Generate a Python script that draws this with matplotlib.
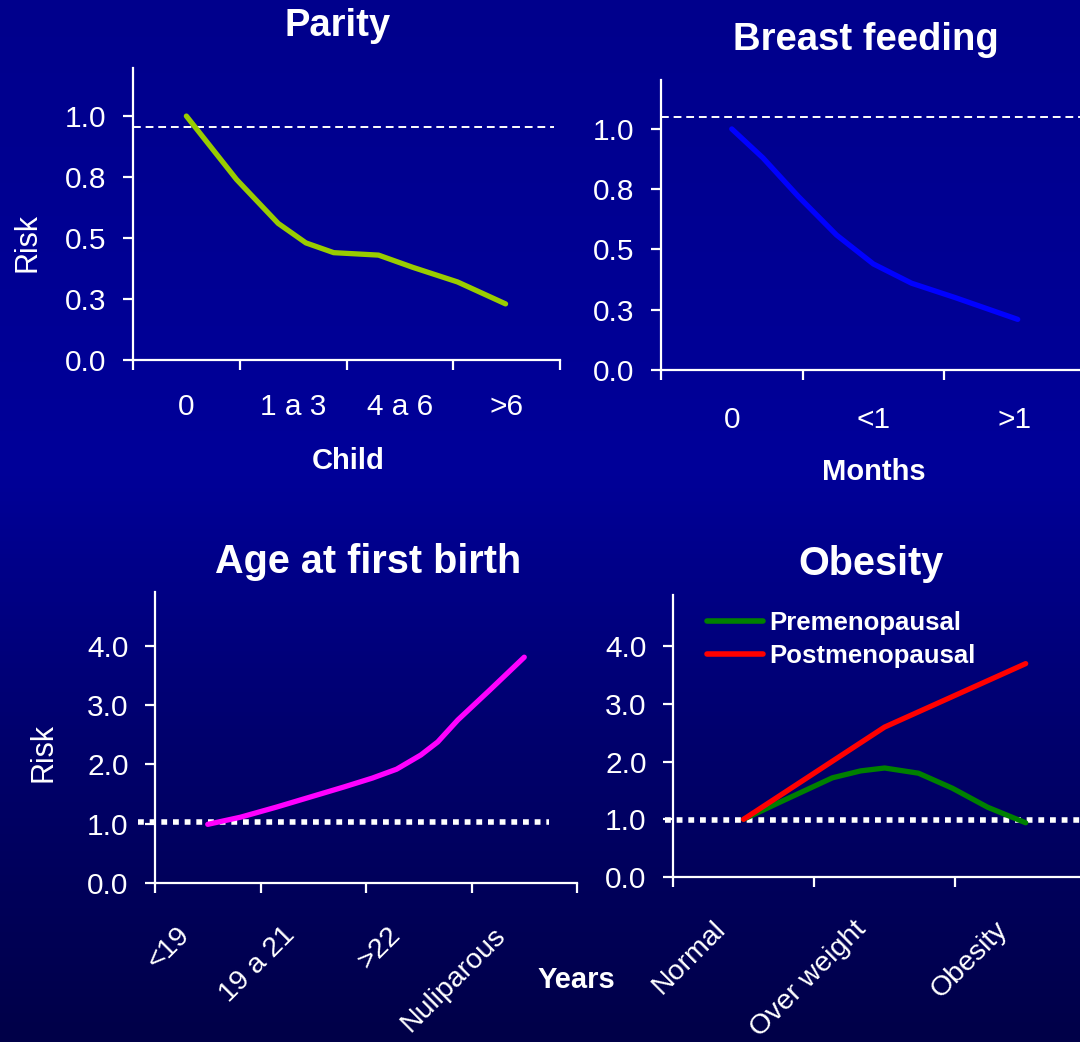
import numpy as np
import matplotlib.pyplot as plt
import matplotlib.transforms as mtransforms
from matplotlib.colors import LinearSegmentedColormap

plt.rcParams['font.family'] = ['Liberation Sans', 'DejaVu Sans']

W, H = 1080, 1042

# ── data ──
parity_cats = ['0', '1 a 3', '4 a 6', '>6']
parity_x = [0, 0.47, 0.86, 1.12, 1.38, 1.8, 2.12, 2.54, 2.99]
parity_risk = [1.0, 0.74, 0.56, 0.48, 0.44, 0.43, 0.38, 0.32, 0.23]

breast_cats = ['0', '<1', '>1']
breast_x = [0, 0.22, 0.47, 0.74, 1.0, 1.27, 1.58, 2.02]
breast_risk = [1.0, 0.88, 0.72, 0.56, 0.44, 0.36, 0.30, 0.21]

age_cats = ['<19', '19 a 21', '>22', 'Nuliparous']
age_x = [0, 0.31, 0.65, 0.97, 1.29, 1.56, 1.79, 2.02, 2.18, 2.37, 2.67, 3.0]
age_risk = [0.99, 1.11, 1.28, 1.45, 1.62, 1.77, 1.92, 2.16, 2.38, 2.75, 3.25, 3.81]

obesity_cats = ['Normal', 'Over weight', 'Obesity']
pre_x = [0, 0.26, 0.63, 0.83, 1.0, 1.24, 1.48, 1.73, 2.0]
pre_risk = [1.0, 1.3, 1.72, 1.84, 1.89, 1.8, 1.54, 1.21, 0.94]
post_x = [0, 1, 2]
post_risk = [1.0, 2.6, 3.7]

small_ticks = [0, 0.25, 0.5, 0.75, 1.0]
small_labels = ['0.0', '0.3', '0.5', '0.8', '1.0']
big_ticks = [0, 1, 2, 3, 4]
big_labels = ['0.0', '1.0', '2.0', '3.0', '4.0']

fig = plt.figure(figsize=(W / 100, H / 100), dpi=100)

# ── background gradient ──
bg = fig.add_axes([0, 0, 1, 1], zorder=-10)
cmap = LinearSegmentedColormap.from_list(
    'bg', [(0.0, '#00008c'), (0.45, '#000099'), (0.7, '#00006e'), (1.0, '#000048')])
bg.imshow(np.linspace(0, 1, 256).reshape(-1, 1), aspect='auto', cmap=cmap,
          extent=[0, 1, 0, 1], origin='upper')
bg.axis('off')


def px_axes(l, t, r, b):
    return fig.add_axes([l / W, 1 - b / H, (r - l) / W, (b - t) / H])


def style(ax, ncat, xmax, ymax, yt, ytl, fs, xfs, xpad):
    ax.set_facecolor('none')
    for s in ['top', 'right']:
        ax.spines[s].set_visible(False)
    for s in ['left', 'bottom']:
        ax.spines[s].set_color('white')
        ax.spines[s].set_linewidth(1.6)
    ax.set_xlim(-0.5, xmax)
    ax.set_ylim(0, ymax)
    ax.set_yticks(yt)
    ax.set_yticklabels(ytl)
    bounds = [i - 0.5 for i in range(ncat + 1) if i - 0.5 <= xmax + 1e-9]
    ax.set_xticks(bounds)
    ax.set_xticklabels([])
    ax.set_xticks(list(range(ncat)), minor=True)
    ax.tick_params(axis='both', which='major', colors='white', length=7,
                   width=1.6, direction='out', labelsize=fs, pad=12)
    ax.tick_params(axis='x', which='minor', length=0, labelsize=xfs,
                   colors='white', pad=xpad)


# ── Parity ──
ax1 = px_axes(133, 68, 560, 360)
style(ax1, 4, 3.5, 1.197, small_ticks, small_labels, 21.5, 21.5, 24)
ax1.set_xticklabels(parity_cats, minor=True)
ax1.plot([-0.5, 3.44], [0.955, 0.955], color='white', lw=1.4,
         dashes=(4, 2.5), zorder=1)
ax1.plot(parity_x, parity_risk, color='#99cc00', lw=3.8,
         solid_capstyle='round', solid_joinstyle='round', zorder=2)

# ── Breast feeding ──
ax2 = px_axes(661, 80, 1080, 370)
style(ax2, 3, 2.46, 1.203, small_ticks, small_labels, 21.5, 21.5, 26)
ax2.set_xticklabels(breast_cats, minor=True)
ax2.plot([-0.5, 2.46], [1.05, 1.05], color='white', lw=1.4,
         dashes=(4, 2.5), zorder=1, clip_on=False)
ax2.plot(breast_x, breast_risk, color='#0000ff', lw=3.8,
         solid_capstyle='round', solid_joinstyle='round', zorder=2)

# ── Age at first birth ──
ax3 = px_axes(155, 592, 577, 883)
style(ax3, 4, 3.5, 4.91, big_ticks, big_labels, 21.5, 20.5, 28)
ax3.set_xticklabels(age_cats, minor=True, rotation=45, ha='right')
off = mtransforms.ScaledTranslation(-13 / 100, 0, fig.dpi_scale_trans)
for lab in ax3.get_xticklabels(minor=True):
    lab.set_transform(lab.get_transform() + off)
ax3.plot([-0.66, 3.23], [1.03, 1.03], color='white', lw=4,
         dashes=(1.05, 1.05), zorder=1, clip_on=False)
ax3.plot(age_x, age_risk, color='#ff00ff', lw=3.8,
         solid_capstyle='round', solid_joinstyle='round', zorder=2)

# ── Obesity ──
ax4 = px_axes(673, 595, 1080, 877)
style(ax4, 3, 2.385, 4.89, big_ticks, big_labels, 21.5, 20.5, 28)
ax4.set_xticklabels(obesity_cats, minor=True, rotation=45, ha='right')
for lab in ax4.get_xticklabels(minor=True):
    lab.set_transform(lab.get_transform() + off)
ax4.plot([-0.56, 2.385], [0.98, 0.98], color='white', lw=4,
         dashes=(1.05, 1.05), zorder=1, clip_on=False)
ax4.plot(pre_x, pre_risk, color='#008000', lw=3.8, label='Premenopausal',
         solid_capstyle='round', solid_joinstyle='round', zorder=2)
ax4.plot(post_x, post_risk, color='#ff0000', lw=3.8, label='Postmenopausal',
         solid_capstyle='round', solid_joinstyle='round', zorder=3)
leg = ax4.legend(loc='upper left', bbox_to_anchor=(0.0835, 0.945), frameon=False,
                 handlelength=2.18, handletextpad=0.23, labelspacing=0.35,
                 borderaxespad=0, borderpad=0,
                 prop={'weight': 'bold', 'size': 18.5})
for t in leg.get_texts():
    t.set_color('white')
for h in leg.get_lines():
    h.set_linewidth(4)
    h.set_solid_capstyle('round')

# ── titles and axis labels ──
kw = dict(color='white', fontweight='bold', ha='center', va='baseline')
fig.text(338 / W, 1 - 36 / H, 'Parity', fontsize=27.5, **kw)
fig.text(866 / W, 1 - 50 / H, 'Breast feeding', fontsize=27.5, **kw)
fig.text(368.5 / W, 1 - 573 / H, 'Age at first birth', fontsize=28.5, **kw)
fig.text(870.5 / W, 1 - 575 / H, 'Obesity', fontsize=28.5, **kw)
fig.text(348 / W, 1 - 469 / H, 'Child', fontsize=21, **kw)
fig.text(874 / W, 1 - 480 / H, 'Months', fontsize=21, **kw)
fig.text(576 / W, 1 - 988 / H, 'Years', fontsize=21, **kw)
fig.text(27 / W, 1 - 243 / H, 'Risk', fontsize=22, color='white',
         rotation=90, ha='center', va='center')
fig.text(43 / W, 1 - 753 / H, 'Risk', fontsize=22, color='white',
         rotation=90, ha='center', va='center')

fig.savefig('out.png', dpi=100, facecolor='#000099')
